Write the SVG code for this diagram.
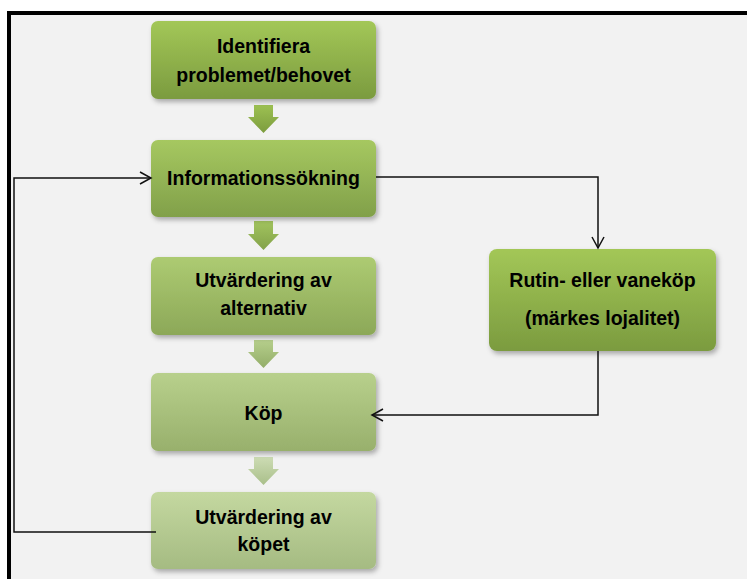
<svg xmlns="http://www.w3.org/2000/svg" width="747" height="579" viewBox="0 0 747 579">
<style>
.t{font-family:"Liberation Sans",Arial,sans-serif;font-weight:bold;font-size:19.5px;fill:#000;text-anchor:middle}
.c{fill:none;stroke:#111;stroke-width:1.5}
</style>
<defs>
<filter id="sh" x="-10%" y="-10%" width="125%" height="135%">
<feDropShadow dx="2" dy="3" stdDeviation="2.5" flood-color="#000" flood-opacity="0.3"/>
</filter>
<linearGradient id="g1" x1="0" y1="0" x2="0" y2="1"><stop offset="0" stop-color="#a3c757"/><stop offset="1" stop-color="#7b9b3f"/></linearGradient>
<linearGradient id="g2" x1="0" y1="0" x2="0" y2="1"><stop offset="0" stop-color="#a6c860"/><stop offset="1" stop-color="#81a04a"/></linearGradient>
<linearGradient id="g3" x1="0" y1="0" x2="0" y2="1"><stop offset="0" stop-color="#adcb72"/><stop offset="1" stop-color="#8ca858"/></linearGradient>
<linearGradient id="g4" x1="0" y1="0" x2="0" y2="1"><stop offset="0" stop-color="#b8d08c"/><stop offset="1" stop-color="#98b06c"/></linearGradient>
<linearGradient id="g5" x1="0" y1="0" x2="0" y2="1"><stop offset="0" stop-color="#c4d8a0"/><stop offset="1" stop-color="#a5bb82"/></linearGradient>
<linearGradient id="a1" x1="0" y1="0" x2="0" y2="1"><stop offset="0" stop-color="#9dc152"/><stop offset="1" stop-color="#7c9c3e"/></linearGradient>
<linearGradient id="a2" x1="0" y1="0" x2="0" y2="1"><stop offset="0" stop-color="#a2c45e"/><stop offset="1" stop-color="#83a24a"/></linearGradient>
<linearGradient id="a3" x1="0" y1="0" x2="0" y2="1"><stop offset="0" stop-color="#b6cf8c"/><stop offset="1" stop-color="#93ad68"/></linearGradient>
<linearGradient id="a4" x1="0" y1="0" x2="0" y2="1"><stop offset="0" stop-color="#cddcb4"/><stop offset="1" stop-color="#a9bf8a"/></linearGradient>
<marker id="open" markerWidth="14" markerHeight="14" refX="12" refY="7" orient="auto" markerUnits="userSpaceOnUse">
<path d="M1,1 L12,7 L1,13" fill="none" stroke="#111" stroke-width="1.5"/>
</marker>
</defs>
<rect x="0" y="0" width="747" height="579" fill="#ffffff"/>
<rect x="7" y="11" width="740" height="568" fill="#f2f2f2"/>
<rect x="7" y="11" width="740" height="4" fill="#000"/>
<rect x="7" y="11" width="4" height="568" fill="#000"/>

<g id="flow-arrows">
<path d="M254,105 H273 V117 H279 L263.5,133 L248,117 H254 Z" fill="url(#a1)"/>
<path d="M254,221 H273 V234 H279 L263.5,250 L248,234 H254 Z" fill="url(#a2)"/>
<path d="M254,340 H273 V352 H279 L263.5,368 L248,352 H254 Z" fill="url(#a3)"/>
<path d="M254,457 H273 V469 H279 L263.5,485 L248,469 H254 Z" fill="url(#a4)"/>
</g>

<g id="n1"><rect x="151" y="21" width="225" height="78" rx="7" fill="url(#g1)" filter="url(#sh)"/>
<text class="t" x="263.5" y="53">Identifiera</text><text class="t" x="263.5" y="82">problemet/behovet</text></g>
<g id="n2"><rect x="151" y="140" width="225" height="77" rx="7" fill="url(#g2)" filter="url(#sh)"/>
<text class="t" x="263.5" y="185">Informationssökning</text></g>
<g id="n3"><rect x="151" y="257" width="225" height="78" rx="7" fill="url(#g3)" filter="url(#sh)"/>
<text class="t" x="263.5" y="287">Utvärdering av</text><text class="t" x="263.5" y="315">alternativ</text></g>
<g id="n4"><rect x="151" y="373" width="225" height="78" rx="7" fill="url(#g4)" filter="url(#sh)"/>
<text class="t" x="263.5" y="420">Köp</text></g>
<g id="n5"><rect x="151" y="492" width="225" height="77" rx="7" fill="url(#g5)" filter="url(#sh)"/>
<text class="t" x="263.5" y="524">Utvärdering av</text><text class="t" x="263.5" y="551">köpet</text></g>
<g id="n6"><rect x="489" y="249" width="227" height="102" rx="8" fill="url(#g1)" filter="url(#sh)"/>
<text class="t" x="602.5" y="287">Rutin- eller vaneköp</text><text class="t" x="602.5" y="325">(märkes lojalitet)</text></g>

<g id="connectors">
<path class="c" d="M156,532 H14 V178 H151" marker-end="url(#open)"/>
<path class="c" d="M376,177 H598 V248" marker-end="url(#open)"/>
<path class="c" d="M598,351 V415 H372" marker-end="url(#open)"/>
</g>
</svg>
